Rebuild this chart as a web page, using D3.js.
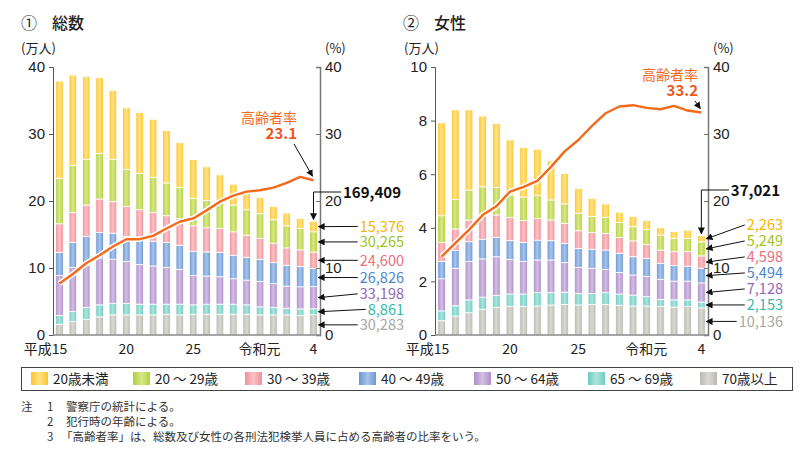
<!DOCTYPE html>
<html>
<head>
<meta charset="utf-8">
<script src="https://cdn.jsdelivr.net/npm/d3@7"></script>
<style>
  body { margin: 0; background: #fff; }
  svg { display: block; font-family: "Noto Sans CJK JP", "Noto Sans", sans-serif; }
</style>
</head>
<body>
<svg id="chart" width="806" height="460"></svg>
<script>
// Years H15 .. R4
const years = ["平成15","16","17","18","19","20","21","22","23","24","25","26","27","28","29","30","令和元","2","3","4"];
const shownYears = ["平成15","20","25","令和元","4"];

// Age groups, bottom of the stack first
const ageGroups = ["70歳以上","65 ～ 69歳","50 ～ 64歳","40 ～ 49歳","30 ～ 39歳","20 ～ 29歳","20歳未満"];
const fillBase  = ["#b9b9b1","#6ccdc0","#ae8dc9","#6a98d6","#f28f98","#b3cf3b","#fdc52f"];
const fillLight = ["#dadad4","#aee3dc","#d3bfe3","#a9c4ea","#f9c3c7","#d8e889","#ffe385"];
const textColor = ["#a8a8a0","#35b9a8","#9466b8","#4a86cc","#ee6e7a","#9dc41e","#f6b600"];

// ① 総数 (万人)
const total70 = [1.6,2.0,2.3,2.7,3.0,3.0,3.0,3.0,3.1,3.0,3.1,3.1,3.1,3.1,3.1,3.0,3.0,3.0,2.9,3.0283];
const total65 = [1.3,1.5,1.8,1.8,1.7,1.7,1.6,1.6,1.5,1.6,1.4,1.5,1.5,1.5,1.4,1.2,1.1,1.0,1.0,0.8861];
const total50 = [6.0,6.6,6.3,7.0,6.6,6.3,5.9,5.7,5.5,5.2,4.4,4.2,4.1,3.8,3.7,3.8,3.6,3.3,3.3,3.3198];
const total40 = [3.4,3.7,4.3,3.8,3.9,3.7,3.7,3.7,3.7,3.6,3.6,3.6,3.6,3.5,3.4,3.3,3.1,3.1,3.0,2.6826];
const total30 = [4.3,4.5,4.7,5.0,4.7,4.5,4.5,4.3,4.0,4.0,3.8,3.6,3.6,3.5,3.3,3.1,2.9,2.6,2.5,2.4600];
const total20 = [6.8,7.0,6.8,6.8,6.3,5.5,5.4,5.2,4.9,4.6,4.1,4.1,3.8,4.0,3.8,3.7,3.5,3.3,3.2,3.0265];
const totalU20 = [14.5,13.5,12.4,11.3,10.3,9.2,9.1,8.7,7.8,6.7,5.8,5.0,4.2,3.1,2.4,2.4,2.0,1.9,1.5,1.5376];
const totalRate = [7.7,9.1,10.7,11.9,13.2,14.3,14.3,14.8,15.9,16.9,17.4,18.6,19.9,20.8,21.4,21.6,22.0,22.7,23.6,23.1];

// ② 女性 (万人)
const female70 = [0.53,0.71,0.83,0.96,1.03,1.06,1.06,1.08,1.12,1.14,1.12,1.14,1.14,1.11,1.08,1.08,1.06,1.04,1.06,1.0136];
const female65 = [0.37,0.38,0.48,0.45,0.45,0.47,0.47,0.50,0.46,0.46,0.43,0.41,0.44,0.42,0.41,0.35,0.27,0.27,0.25,0.2153];
const female50 = [1.20,1.40,1.43,1.43,1.44,1.29,1.22,1.22,1.22,1.10,0.97,0.94,0.87,0.80,0.75,0.75,0.75,0.70,0.70,0.7128];
const female40 = [0.65,0.66,0.74,0.73,0.72,0.70,0.71,0.74,0.72,0.72,0.71,0.71,0.72,0.72,0.68,0.68,0.59,0.58,0.56,0.5494];
const female30 = [0.70,0.81,0.81,0.92,0.84,0.86,0.81,0.81,0.77,0.75,0.66,0.62,0.62,0.59,0.59,0.52,0.50,0.52,0.54,0.4598];
const female20 = [1.00,1.10,1.12,1.04,1.02,0.84,0.88,0.85,0.75,0.72,0.65,0.60,0.60,0.56,0.53,0.56,0.56,0.50,0.50,0.5249];
const femaleU20 = [3.47,3.34,2.99,2.64,2.40,2.06,1.84,1.73,1.46,1.14,0.93,0.68,0.50,0.38,0.38,0.33,0.27,0.25,0.30,0.2263];
const femaleRate = [11.7,13.7,15.7,17.9,19.2,21.4,22.1,23.0,25.1,27.4,29.1,31.2,33.1,34.1,34.3,33.9,33.7,34.2,33.5,33.2];

const totalTicks = [0,10,20,30,40];
const femaleTicks = [0,2,4,6,8,10];
const rateTicks = [0,10,20,30,40];

const notes = [
  ["注", "1", "警察庁の統計による。"],
  ["", "2", "犯行時の年齢による。"],
  ["", "3", "「高齢者率」は、総数及び女性の各刑法犯検挙人員に占める高齢者の比率をいう。"]
];

const svg = d3.select("#chart");
const defs = svg.append("defs");

// horizontal gradients for the bar segments
fillBase.forEach((c, i) => {
  const g = defs.append("linearGradient").attr("id", "grad" + i)
    .attr("x1", 0).attr("x2", 1).attr("y1", 0).attr("y2", 0);
  g.append("stop").attr("offset", "0%").attr("stop-color", c);
  g.append("stop").attr("offset", "50%").attr("stop-color", fillLight[i]);
  g.append("stop").attr("offset", "100%").attr("stop-color", c);
});

defs.append("marker").attr("id", "arrow")
  .attr("viewBox", "0 0 10 10").attr("refX", 9).attr("refY", 5)
  .attr("markerWidth", 7).attr("markerHeight", 7).attr("markerUnits", "userSpaceOnUse")
  .attr("orient", "auto")
  .append("path").attr("d", "M0,0 L10,5 L0,10 Z").attr("fill", "#111");

const fmt = d3.format(",");

function drawPanel(p) {
  const g = svg.append("g");
  const rows = years.map((y, i) => {
    const r = { year: y };
    ageGroups.forEach((a, k) => r[a] = p.series[k][i]);
    return r;
  });
  const stacked = d3.stack().keys(ageGroups)(rows);

  const x = d3.scaleBand().domain(years).range([p.left, p.right])
    .paddingInner(0.43).paddingOuter(0.2);
  const y = d3.scaleLinear().domain([0, p.max]).range([335, 67]);
  const yr = d3.scaleLinear().domain([0, 40]).range([335, 67]);

  // titles
  g.append("text").attr("x", p.left - 32).attr("y", 29).attr("font-size", 16).attr("fill", "#222").text(p.num);
  g.append("text").attr("x", p.left - 1).attr("y", 29).attr("font-size", 16).attr("fill", "#222")
    .attr("font-weight", 500).text(p.title);
  g.append("text").attr("x", p.unitX).attr("y", 53).attr("font-size", 13).attr("fill", "#222").text("(万人)");
  g.append("text").attr("x", p.right + 5).attr("y", 53).attr("font-size", 13).attr("fill", "#222").text("(%)");

  // bars
  g.append("g").selectAll("g").data(stacked).join("g")
    .attr("fill", (d, k) => `url(#grad${k})`)
    .selectAll("rect").data(d => d).join("rect")
    .attr("x", d => x(d.data.year))
    .attr("width", x.bandwidth())
    .attr("y", d => y(d[1]))
    .attr("height", d => y(d[0]) - y(d[1]))
    .attr("stroke", "#fff").attr("stroke-width", 0.8);

  // axes
  const axL = g.append("g").attr("transform", `translate(${p.left},0)`)
    .call(d3.axisLeft(y).tickValues(p.ticks).tickSize(4).tickPadding(4));
  axL.select(".domain").attr("stroke", "#555");
  axL.selectAll("line").attr("stroke", "#555");
  axL.selectAll("text").attr("font-size", 15).attr("fill", "#222").attr("font-family", null);

  const axR = g.append("g").attr("transform", `translate(${p.right},0)`)
    .call(d3.axisRight(yr).tickValues(rateTicks).tickSize(-4).tickPadding(5));
  axR.select(".domain").attr("stroke", "#777").attr("stroke-width", 1.5);
  axR.selectAll("line").attr("stroke", "#777");
  axR.selectAll("text").attr("font-size", 15).attr("fill", "#222").attr("font-family", null);

  g.append("line").attr("x1", p.left).attr("x2", p.right).attr("y1", 335).attr("y2", 335)
    .attr("stroke", "#888").attr("stroke-width", 1.5);

  // x labels: number part centred on the bar, era name in front of it
  shownYears.forEach(lab => {
    const cx = x(lab) + x.bandwidth() / 2;
    const m = lab.match(/^(平成|令和)(.*)$/);
    const pre = m ? m[1] : "";
    const main = m ? m[2] : lab;
    const t = g.append("text").attr("x", cx).attr("y", 354).attr("text-anchor", "middle")
      .attr("font-size", 14).attr("fill", "#222").text(main);
    if (pre) {
      const w = t.node().getComputedTextLength();
      g.append("text").attr("x", cx - w / 2).attr("y", 354).attr("text-anchor", "end")
        .attr("font-size", 14).attr("fill", "#222").text(pre);
    }
  });

  // elderly ratio line
  const line = d3.line().x((d, i) => x(years[i]) + x.bandwidth() / 2).y(d => yr(d));
  g.append("path").datum(p.rate).attr("d", line).attr("fill", "none")
    .attr("stroke", "#fff").attr("stroke-width", 5.5).attr("stroke-linejoin", "round");
  g.append("path").datum(p.rate).attr("d", line).attr("fill", "none")
    .attr("stroke", "#f26a1b").attr("stroke-width", 2.4).attr("stroke-linejoin", "round");

  const last = years.length - 1;
  const lastX = x(years[last]) + x.bandwidth() / 2;
  const lastRate = p.rate[last];
  g.append("text").attr("x", p.rateLabelX).attr("y", p.rateLabelY).attr("text-anchor", "end")
    .attr("font-size", 14).attr("fill", "#f26a1b").text("高齢者率");
  g.append("text").attr("x", p.rateLabelX).attr("y", p.rateLabelY + 16).attr("text-anchor", "end")
    .attr("font-size", 15).attr("font-weight", "bold").attr("fill", "#f0561a").text(lastRate.toFixed(1));
  g.append("line").attr("x1", p.rateLabelX - 3).attr("y1", p.rateLabelY + 21)
    .attr("x2", lastX - 1).attr("y2", yr(lastRate) - 4)
    .attr("stroke", "#111").attr("stroke-width", 1).attr("marker-end", "url(#arrow)");

  // total of the last year
  const lastVals = p.series.map(s => s[last]);
  const lastTotal = d3.sum(lastVals);
  const tot = g.append("text").attr("x", p.labelX - 3).attr("y", p.totalY + 6).attr("text-anchor", "end")
    .attr("font-size", 15).attr("font-weight", "bold").attr("fill", "#111")
    .text(fmt(Math.round(lastTotal * 10000)));
  const tw = tot.node().getComputedTextLength();
  g.append("path")
    .attr("d", `M${p.labelX - 3 - tw - 2},${p.totalY} H${lastX} V${y(lastTotal) - 2}`)
    .attr("fill", "none").attr("stroke", "#111").attr("stroke-width", 1).attr("marker-end", "url(#arrow)");

  // segment labels of the last year
  const barRight = x(years[last]) + x.bandwidth();
  let prev = null;
  stacked.forEach((s, k) => {
    const seg = s[last];
    const target = y((seg[0] + seg[1]) / 2);
    let ly = k === 0 ? target : Math.min(target, prev - p.gap);
    prev = ly;
    const t = g.append("text").attr("x", p.labelX).attr("y", ly).attr("dy", "0.36em")
      .attr("text-anchor", "end").attr("font-size", 14.5).attr("fill", textColor[k])
      .text(fmt(Math.round(seg.data[ageGroups[k]] * 10000)));
    const w = t.node().getComputedTextLength();
    g.append("line").attr("x1", p.labelX - w - 2).attr("y1", ly)
      .attr("x2", barRight + 1).attr("y2", target)
      .attr("stroke", "#111").attr("stroke-width", 1).attr("marker-end", "url(#arrow)");
  });
}

drawPanel({
  num: "①", title: "総数", left: 53, right: 320, max: 40, ticks: totalTicks, unitX: 21,
  series: [total70, total65, total50, total40, total30, total20, totalU20], rate: totalRate,
  rateLabelX: 297, rateLabelY: 123, labelX: 404, totalY: 192, gap: 15.5
});
drawPanel({
  num: "②", title: "女性", left: 435, right: 708, max: 10, ticks: femaleTicks, unitX: 404,
  series: [female70, female65, female50, female40, female30, female20, femaleU20], rate: femaleRate,
  rateLabelX: 698, rateLabelY: 80, labelX: 783, totalY: 190, gap: 16
});

// legend
const legend = svg.append("g");
legend.append("rect").attr("x", 21.5).attr("y", 367.5).attr("width", 771).attr("height", 23)
  .attr("fill", "#fff").attr("stroke", "#444").attr("stroke-width", 1);
const legendOrder = d3.range(ageGroups.length).reverse();
const legendX = [31, 133, 245, 359, 474, 588, 700];
legendOrder.forEach((k, j) => {
  legend.append("rect").attr("x", legendX[j]).attr("y", 372).attr("width", 17).attr("height", 13)
    .attr("fill", `url(#grad${k})`);
  legend.append("text").attr("x", legendX[j] + 22).attr("y", 384).attr("font-size", 13.5)
    .attr("fill", "#222").text(ageGroups[k]);
});

// notes
notes.forEach((n, i) => {
  const yy = 411 + i * 15;
  svg.append("text").attr("x", 21).attr("y", yy).attr("font-size", 11.5).attr("fill", "#333").text(n[0]);
  svg.append("text").attr("x", 47).attr("y", yy).attr("font-size", 11.5).attr("fill", "#333").text(n[1]);
  svg.append("text").attr("x", n[2].startsWith("「") ? 61 : 66).attr("y", yy).attr("font-size", 11.5)
    .attr("fill", "#333").text(n[2]);
});
</script>
</body>
</html>
